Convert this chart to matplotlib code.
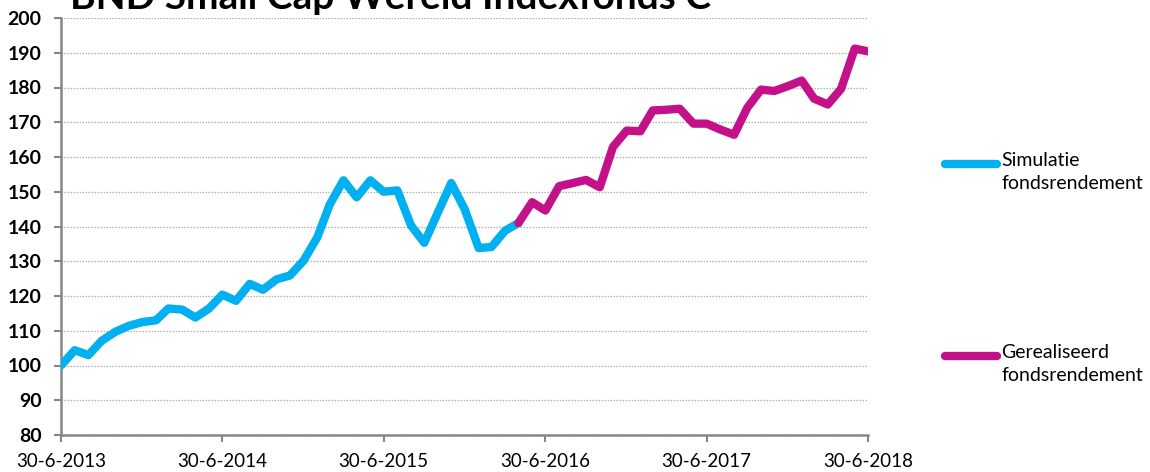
import matplotlib
matplotlib.use("Agg")
import matplotlib.pyplot as plt
from matplotlib.lines import Line2D
import pandas as pd

# ── Data ──────────────────────────────────────────────────────────────────────
dates = pd.date_range("2013-06-30", "2018-06-30", freq="ME")

simulatie = [100, 104.4, 103.0, 107.1, 109.7, 111.4, 112.5, 113.0, 116.4, 116.1,
             113.8, 116.4, 120.4, 118.6, 123.5, 121.8, 124.8, 125.9, 130.2, 136.9,
             146.3, 153.3, 148.4, 153.3, 150.0, 150.4, 140.3, 135.3, 144.1, 152.5,
             144.8, 133.8, 134.1, 138.8, 141.0]
gerealiseerd = [141.0, 147.0, 144.6, 151.6, 152.5, 153.4, 151.3, 162.9, 167.6,
                167.4, 173.4, 173.6, 173.9, 169.6, 169.6, 167.9, 166.4, 174.2,
                179.4, 179.0, 180.4, 182.0, 176.8, 175.1, 179.6, 191.2, 190.4]

tick_dates = pd.to_datetime(["2013-06-30", "2014-06-30", "2015-06-30",
                             "2016-06-30", "2017-06-30", "2018-06-30"])
y_ticks = list(range(80, 201, 10))

BLUE = "#00B0F0"
MAGENTA = "#C4118A"
AXIS_GREY = "#868686"
FONT = "Lato"

plt.rcParams["font.family"] = [FONT, "DejaVu Sans"]

# ── Figure ────────────────────────────────────────────────────────────────────
fig = plt.figure(figsize=(11.5, 4.72), dpi=100)
ax = fig.add_axes([61 / 1150, 37 / 472, (868 - 61) / 1150, (435 - 18) / 472])

n_sim = len(simulatie)
ax.plot(dates[:n_sim], simulatie, color=BLUE, lw=6,
        solid_capstyle="round", solid_joinstyle="round", zorder=3)
ax.plot(dates[n_sim - 1:], gerealiseerd, color=MAGENTA, lw=6,
        solid_capstyle="round", solid_joinstyle="round", zorder=4)

ax.set_xlim(dates[0], dates[-1])
ax.set_ylim(80, 200)
ax.set_yticks(y_ticks)
ax.set_yticklabels([str(v) for v in y_ticks], fontweight="bold", fontsize=14)
ax.set_xticks(tick_dates)
ax.set_xticklabels([f"{d.day}-{d.month}-{d.year}" for d in tick_dates], fontsize=13.5)

ax.grid(axis="y", color="#AFAFAF", lw=0.9, ls=(0, (1.2, 1.2)), zorder=0)
for s in ["top", "right"]:
    ax.spines[s].set_visible(False)
for s in ["left", "bottom"]:
    ax.spines[s].set_color(AXIS_GREY)
    ax.spines[s].set_linewidth(1.8)
ax.tick_params(axis="both", direction="out", length=5, width=1.5,
               color=AXIS_GREY, labelcolor="black")
ax.tick_params(axis="y", pad=9)
ax.tick_params(axis="x", pad=8)

# ── Title (partly cut off at the top, as in the original) ─────────────────────
fig.text(390 / 1150, 1 - 9 / 472, "BND Small Cap Wereld Indexfonds C",
         ha="center", va="baseline", fontsize=28, fontweight="bold")

# ── Legend ────────────────────────────────────────────────────────────────────
entries = [("Simulatie\nfondsrendement", BLUE, 164),
           ("Gerealiseerd\nfondsrendement", MAGENTA, 356)]
for label, color, ypix in entries:
    yf = 1 - ypix / 472
    fig.add_artist(Line2D([945 / 1150, 997 / 1150], [yf, yf], color=color, lw=6,
                          solid_capstyle="round", transform=fig.transFigure))
    fig.text(1001 / 1150, yf + 12 / 472, label, ha="left", va="top",
             fontsize=14, linespacing=1.45)

fig.savefig("out.png", dpi=100, facecolor="white")
